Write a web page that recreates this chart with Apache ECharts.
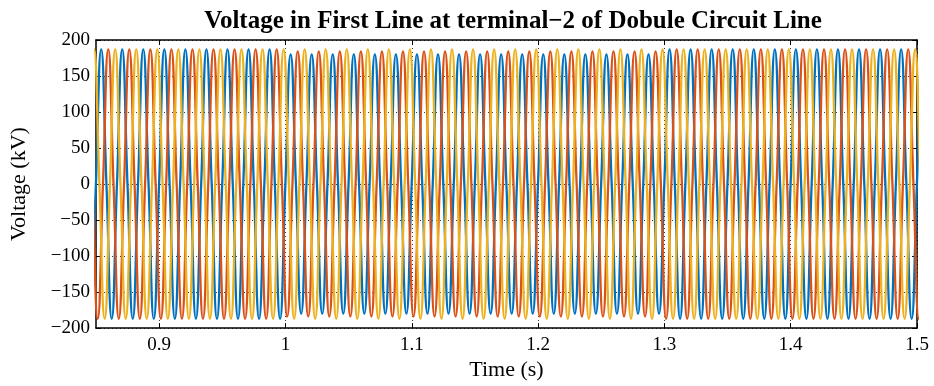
<!DOCTYPE html>
<html>
<head>
<meta charset="utf-8">
<script src="https://cdn.jsdelivr.net/npm/echarts@6/dist/echarts.min.js"></script>
<style>
  html, body { margin: 0; padding: 0; background: #ffffff; }
  #chart { width: 934px; height: 386px; }
</style>
</head>
<body>
<div id="chart"></div>
<script>
// Axis ticks
const xTicks = [0.9, 1.0, 1.1, 1.2, 1.3, 1.4, 1.5];
const yTicks = [-200, -150, -100, -50, 0, 50, 100, 150, 200];

// Three-phase voltage at terminal 2 (kV), 60 Hz supply
const lineFrequency = 60;                       // Hz
const phaseColors = ['#0072BD', '#D95319', '#EDB120'];
const firstPeakTime = [0.8541, 0.8597, 0.8652]; // s, first positive crest of each phase

// Crest voltage of each phase over the time windows [0.85,1.0), [1.0,1.3), [1.3,1.5]
const windowStart = [0.85, 1.0, 1.3];
const crestPhaseA = [187, 180, 187];
const crestPhaseB = [187, 184, 187];
const crestPhaseC = [187, 187, 187];
const crests = [crestPhaseA, crestPhaseB, crestPhaseC];

const tStart = 0.85, tEnd = 1.5;

function crestAt(phase, t) {
  let v = crests[phase][0];
  for (let i = 0; i < windowStart.length; i++) {
    if (t >= windowStart[i]) v = crests[phase][i];
  }
  return v;
}

// Each half cycle is described by its crest and the following zero crossing;
// the curve between them is the library's smoothed line.
function phasePoints(phase) {
  const half = 1 / (2 * lineFrequency);
  const pts = [];
  for (let k = -4; ; k++) {
    const tc = firstPeakTime[phase] + k * half;
    if (tc - half > tEnd) break;
    const sign = (k % 2 === 0) ? 1 : -1;
    pts.push([tc, sign * crestAt(phase, tc)]);
    pts.push([tc + half / 2, 0]);
  }
  return pts;
}

const fontFamily = '"Liberation Serif", "Times New Roman", serif';
const textColor = '#000000';

const chart = echarts.init(document.getElementById('chart'), null, { renderer: 'canvas' });

const gridLine = { show: true, lineStyle: { color: '#3a3a3a', type: [1, 3], width: 1 } };

chart.setOption({
  animation: false,
  backgroundColor: '#ffffff',
  title: {
    text: 'Voltage in First Line at terminal\u22122 of Dobule Circuit Line',
    left: 508, top: 4, textAlign: 'center',
    textStyle: { fontFamily, fontWeight: 'bold', fontSize: 25, color: textColor }
  },
  grid: { left: 95, right: 17, top: 40, bottom: 53, containLabel: false },
  xAxis: [
    {
      type: 'value', min: tStart, max: tEnd, position: 'bottom',
      name: 'Time (s)', nameLocation: 'middle', nameGap: 30,
      nameTextStyle: { fontFamily, fontSize: 22, color: textColor },
      axisLine: { show: true, onZero: false, lineStyle: { color: '#000', width: 1.5 } },
      axisTick: { show: true, inside: true, length: 5, customValues: xTicks, lineStyle: { color: '#000' } },
      axisLabel: { show: true, customValues: xTicks, margin: 7,
        fontFamily, fontSize: 19, color: textColor,
        formatter: v => String(Math.round(v * 10) / 10) },
      splitLine: gridLine
    },
    {
      type: 'value', min: tStart, max: tEnd, position: 'top',
      axisLine: { show: true, onZero: false, lineStyle: { color: '#000', width: 1.5 } },
      axisTick: { show: true, inside: true, length: 5, customValues: xTicks, lineStyle: { color: '#000' } },
      axisLabel: { show: false },
      splitLine: { show: false }
    }
  ],
  yAxis: [
    {
      type: 'value', min: -200, max: 200, interval: 50, position: 'left',
      name: 'Voltage (kV)', nameLocation: 'middle', nameGap: 66, nameRotate: 90,
      nameTextStyle: { fontFamily, fontSize: 22, color: textColor },
      axisLine: { show: true, onZero: false, lineStyle: { color: '#000', width: 1.5 } },
      axisTick: { show: true, inside: true, length: 5, lineStyle: { color: '#000' } },
      axisLabel: { show: true, margin: 6, fontFamily, fontSize: 19, color: textColor,
        formatter: v => (v < 0 ? '\u2212' + Math.abs(v) : String(v)) },
      splitLine: gridLine
    },
    {
      type: 'value', min: -200, max: 200, interval: 50, position: 'right',
      axisLine: { show: true, onZero: false, lineStyle: { color: '#000', width: 1.5 } },
      axisTick: { show: true, inside: true, length: 5, lineStyle: { color: '#000' } },
      axisLabel: { show: false },
      splitLine: { show: false }
    }
  ],
  series: phaseColors.map((color, i) => ({
    type: 'line',
    xAxisIndex: 0, yAxisIndex: 0,
    data: phasePoints(i),
    showSymbol: false,
    smooth: 0.5,
    clip: true,
    lineStyle: { color, width: 2.3 },
    itemStyle: { color },
    emphasis: { disabled: true },
    silent: true
  }))
});
</script>
</body>
</html>
